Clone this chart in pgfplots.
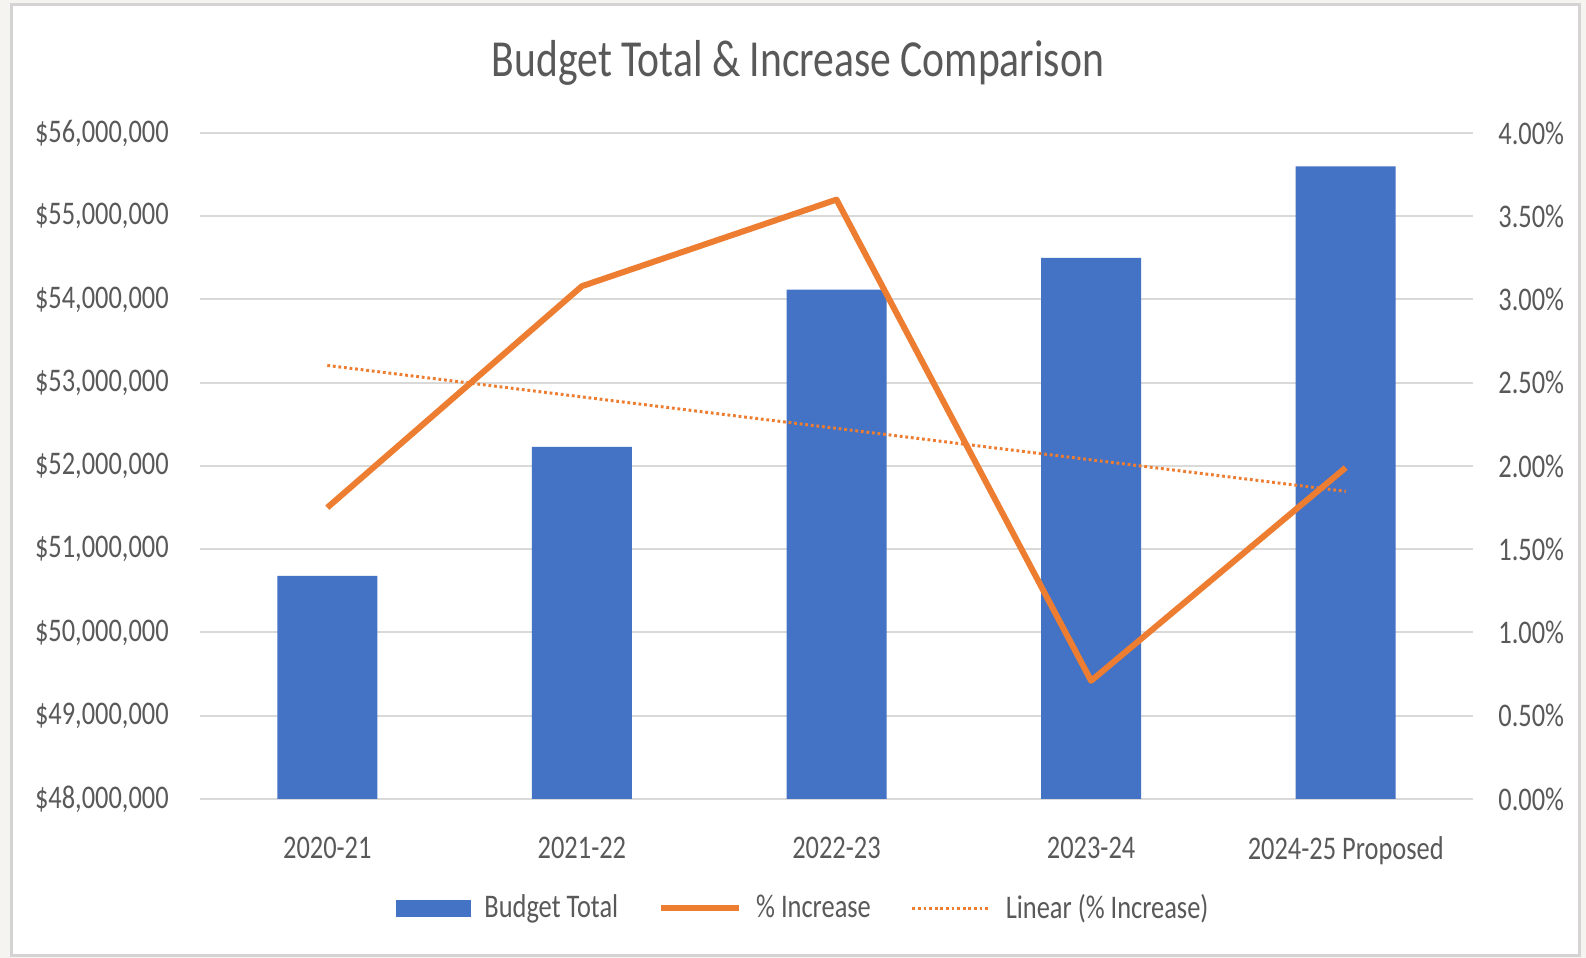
\documentclass[border=0pt]{standalone}
\usepackage{pgfplots}
\pgfplotsset{compat=1.18}
\usepackage{fontspec}
\setmainfont{Carlito}[FakeStretch=0.8]
\definecolor{barblue}{HTML}{4472C4}
\definecolor{lineorange}{HTML}{ED7D31}
\definecolor{gridgray}{HTML}{D9D9D9}
\definecolor{txtgray}{HTML}{595959}
\definecolor{framegray}{HTML}{D4D4D4}
\definecolor{bgout}{HTML}{F6F4F1}
\pgfplotsset{
  mylineleg/.style={legend image code/.code={\draw[##1] (0pt,0pt) -- (39pt,0pt);}},
  mybarleg/.style={legend image code/.code={\fill[barblue] (0pt,-4pt) rectangle (37pt,4pt);}},
}

\begin{document}
\begin{tikzpicture}[x=1pt,y=1pt]
\fill[bgout] (0,0) rectangle (793,479);
\fill[white,draw=framegray,line width=1.5pt] (5.5,1) rectangle (789.5,476.5);
\node[txtgray, font=\fontsize{26}{30}\selectfont] at (399,447.5) {Budget Total \& Increase Comparison};

\begin{axis}[at={(100pt,79.5pt)}, anchor=south west, scale only axis,
  width=636.5pt, height=333pt,
  xmin=-0.5, xmax=4.5, ymin=48000000, ymax=56000000,
  scaled y ticks=false,
  ybar, bar width=50pt,
  xtick={0,1,2,3,4},
  xticklabels={2020-21,2021-22,2022-23,2023-24,2024-25 Proposed},
  ytick={48000000,49000000,50000000,51000000,52000000,53000000,54000000,55000000,56000000},
  yticklabels={{\$48,000,000},{\$49,000,000},{\$50,000,000},{\$51,000,000},{\$52,000,000},{\$53,000,000},{\$54,000,000},{\$55,000,000},{\$56,000,000}},
  ymajorgrids, grid style={gridgray, line width=1pt},
  axis line style={draw=none}, major tick style={draw=none},
  tick label style={txtgray, font=\fontsize{16.5}{19}\selectfont},
  yticklabel style={inner xsep=0pt, xshift=-15.5pt},
  xticklabel style={inner ysep=0pt, yshift=-14.5pt},
]
\addplot[fill=barblue, draw=none] coordinates {(0,50680000) (1,52230000) (2,54120000) (3,54500000) (4,55600000)};
\end{axis}

\begin{axis}[at={(100pt,79.5pt)}, anchor=south west, scale only axis,
  width=636.5pt, height=333pt,
  xmin=-0.5, xmax=4.5, ymin=0, ymax=4,
  hide x axis, axis y line*=right,
  axis line style={draw=none}, major tick style={draw=none},
  ytick={0,0.5,1,1.5,2,2.5,3,3.5,4},
  yticklabels={0.00\%,0.50\%,1.00\%,1.50\%,2.00\%,2.50\%,3.00\%,3.50\%,4.00\%},
  tick label style={txtgray, font=\fontsize{16.5}{19}\selectfont},
  yticklabel style={inner xsep=0pt, xshift=12.5pt},
  legend style={at={(0.4745,-0.1637)}, anchor=center, draw=none, fill=none,
    legend columns=3, font=\fontsize{16.5}{19}\selectfont, text=txtgray,
    /tikz/every odd column/.append style={column sep=5pt},
    /tikz/every even column/.append style={column sep=18pt}},
  legend cell align=left,
]
\addlegendimage{mybarleg}
\addlegendentry{Budget Total}
\addplot[lineorange, line width=3pt, line join=round, mylineleg]
  coordinates {(0,1.75) (1,3.08) (2,3.60) (3,0.71) (4,1.99)};
\addlegendentry{\% Increase}
\addplot[lineorange, line width=1.5pt, dash pattern=on 1.4pt off 1.4pt, mylineleg]
  coordinates {(0,2.604) (4,1.848)};
\addlegendentry{Linear (\% Increase)}
\end{axis}
\end{tikzpicture}
\end{document}
